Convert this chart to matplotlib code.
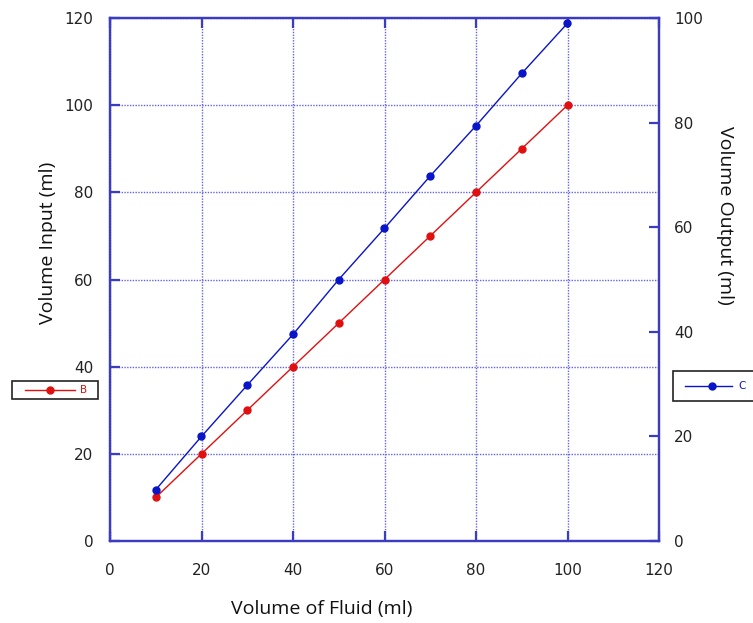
import matplotlib
matplotlib.use("Agg")
import matplotlib.pyplot as plt
from matplotlib.lines import Line2D
from matplotlib.patches import Rectangle

# Data
x_fluid = [10, 20, 30, 40, 50, 60, 70, 80, 90, 100]
vol_input_B = [10, 20, 30, 40, 50, 60, 70, 80, 90, 100]
vol_output_C = [9.8, 20, 29.8, 39.5, 50, 59.8, 69.8, 79.4, 89.4, 99]
x_ticks = [0, 20, 40, 60, 80, 100, 120]
left_ticks = [0, 20, 40, 60, 80, 100, 120]
right_ticks = [0, 20, 40, 60, 80, 100]
legend_labels = ["B", "C"]

RED = "#e01010"
BLUE = "#0a14c8"
FRAME = "#3c3cc0"
GRID = "#6464e6"
TICKC = "#222222"

W, H = 753, 623
fig = plt.figure(figsize=(W/100, H/100), dpi=100)
ax = fig.add_axes([110/W, 82/H, 549/W, 523/H])
ax2 = ax.twinx()

ax.plot(x_fluid, vol_input_B, color=RED, lw=1.0, marker="o", ms=5, mec=RED, mfc=RED, zorder=3)
ax2.plot(x_fluid, vol_output_C, color=BLUE, lw=1.0, marker="o", ms=5, mec=BLUE, mfc=BLUE, zorder=3)

ax.set_xlim(0, 120)
ax.set_ylim(0, 120)
ax2.set_ylim(0, 100)
ax.set_xticks(x_ticks)
ax.set_yticks(left_ticks)
ax2.set_yticks(right_ticks)

ax.grid(True, color=GRID, linestyle=(0, (1, 1)), linewidth=1.0)
ax.set_axisbelow(True)

for a in (ax, ax2):
    for s in a.spines.values():
        s.set_color(FRAME)
        s.set_linewidth(1.6)

ax.tick_params(axis="both", direction="in", length=7, width=1.6, color=FRAME,
               labelsize=11, labelcolor=TICKC, top=True)
ax.tick_params(axis="y", pad=12)
ax.tick_params(axis="x", pad=15.5)
ax2.tick_params(axis="y", direction="in", length=7, width=1.6, color=FRAME,
                labelsize=11, labelcolor=TICKC, pad=11)

lab_font = dict(family="Open Sans", size=14, color="#111111")
ax.set_xlabel("Volume of Fluid (ml)", **lab_font)
ax.set_ylabel("Volume Input (ml)", **lab_font)
ax2.set_ylabel("Volume Output (ml)", rotation=270, va="bottom", **lab_font)
ax.xaxis.set_label_coords(0.386, -0.112)
ax.yaxis.set_label_coords(-0.097, 0.57)
ax2.yaxis.set_label_coords(1.103, 0.623)


def px(x, y):
    return x / W, 1 - y / H


def legend_box(x0, y0, x1, y1, lx0, lx1, ly, mx, tx, color, label):
    bx, by = px(x0, y1)
    fig.patches.append(Rectangle((bx, by), (x1 - x0) / W, (y1 - y0) / H,
                                 transform=fig.transFigure, fill=True, fc="white",
                                 ec="#222222", lw=1.2, clip_on=False))
    a, b = px(lx0, ly)
    c, d = px(lx1, ly)
    fig.lines.append(Line2D([a, c], [b, d], transform=fig.transFigure, color=color, lw=1.0))
    m, n = px(mx, ly)
    fig.lines.append(Line2D([m], [n], transform=fig.transFigure, color=color,
                            marker="o", ms=5, mfc=color, mec=color))
    t, u = px(tx, ly)
    fig.text(t, u, label, color=color, fontsize=7.5, va="center", ha="left")


legend_box(12, 381, 98, 399, 25, 75, 390, 50, 80, RED, legend_labels[0])
legend_box(673, 371, 765, 401, 685, 732, 386, 712, 738, BLUE, legend_labels[1])

fig.savefig("out.png", dpi=100)
